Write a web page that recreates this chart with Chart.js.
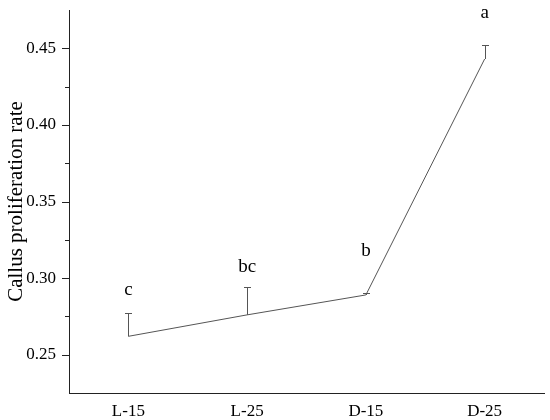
<!DOCTYPE html>
<html>
<head>
<meta charset="utf-8">
<script src="https://cdn.jsdelivr.net/npm/chart.js@4.4.0/dist/chart.umd.min.js"></script>
<style>
  html, body { margin: 0; padding: 0; background: #fff; }
  #wrap { width: 550px; height: 420px; }
</style>
</head>
<body>
<div id="wrap"><canvas id="chart" width="550" height="420"></canvas></div>
<script>
// datos
const categories = ['L-15', 'L-25', 'D-15', 'D-25'];
const means = [0.262, 0.276, 0.289, 0.443];
const errors = [0.015, 0.018, 0.001, 0.009];
const letters = ['c', 'bc', 'b', 'a'];
const letterLevels = [0.292, 0.307, 0.318, 0.473]; // altura de las letras (en unidades de y)

const serif = '"Liberation Serif", "Times New Roman", serif';

// barras de error (solo hacia arriba), marcas del eje y letras
const extras = {
    id: 'extras',
    afterDatasetsDraw(chart) {
        const ctx = chart.ctx;
        const x = chart.scales.x;
        const y = chart.scales.y;
        ctx.save();

        // barras de error
        ctx.strokeStyle = '#555';
        ctx.lineWidth = 1;
        means.forEach(function(m, i) {
            const px = Math.round(x.getPixelForValue(i)) + 0.5;
            const y0 = y.getPixelForValue(m);
            const y1 = Math.round(y.getPixelForValue(m + errors[i])) + 0.5;
            ctx.beginPath();
            ctx.moveTo(px, y0);
            ctx.lineTo(px, y1);
            ctx.moveTo(px - 3.5, y1);
            ctx.lineTo(px + 3.5, y1);
            ctx.stroke();
        });

        // marcas del eje y (mayores y menores)
        ctx.strokeStyle = '#222';
        const ax = chart.chartArea.left;
        y.ticks.forEach(function(t) {
            const v = Math.round(t.value * 1000);
            if (v <= 225 || v >= 475) return;
            const py = Math.round(y.getPixelForValue(t.value)) + 0.5;
            const len = v % 50 === 0 ? 7 : 4;
            ctx.beginPath();
            ctx.moveTo(ax - len, py);
            ctx.lineTo(ax, py);
            ctx.stroke();
        });

        // letras de significancia
        ctx.fillStyle = '#000';
        ctx.font = '19px ' + serif;
        ctx.textAlign = 'center';
        ctx.textBaseline = 'middle';
        letters.forEach(function(l, i) {
            ctx.fillText(l, x.getPixelForValue(i), y.getPixelForValue(letterLevels[i]));
        });
        ctx.restore();
    }
};

const ctx = document.getElementById('chart').getContext('2d');
new Chart(ctx, {
    type: 'line',
    data: {
        labels: categories,
        datasets: [{
            data: means,
            borderColor: '#555',
            borderWidth: 1,
            pointRadius: 0,
            tension: 0,
            fill: false
        }]
    },
    options: {
        responsive: false,
        animation: false,
        layout: { padding: { top: 0, right: 6, left: 4, bottom: 0 } },
        plugins: {
            legend: { display: false },
            tooltip: { enabled: false }
        },
        scales: {
            x: {
                offset: true,
                grid: { display: false },
                border: { display: true, color: '#222', width: 1 },
                ticks: {
                    color: '#000',
                    font: { family: serif, size: 17 },
                    padding: 0
                },
                afterFit: function(scale) { scale.height = 27; }
            },
            y: {
                min: 0.225,
                max: 0.475,
                grid: { display: false },
                border: { display: true, color: '#222', width: 1 },
                ticks: {
                    stepSize: 0.025,
                    autoSkip: false,
                    color: '#000',
                    font: { family: serif, size: 17 },
                    padding: 5,
                    callback: function(value) {
                        const v = Math.round(value * 1000);
                        return v % 50 === 0 ? value.toFixed(2) : '';
                    }
                },
                title: {
                    display: true,
                    text: 'Callus proliferation rate',
                    color: '#000',
                    font: { family: serif, size: 21 },
                    padding: { top: 0, bottom: 0 }
                },
                afterFit: function(scale) {
                    scale.width = 65;
                    scale.paddingTop = 10;
                    scale.paddingBottom = 0;
                }
            }
        }
    },
    plugins: [extras]
});
</script>
</body>
</html>
